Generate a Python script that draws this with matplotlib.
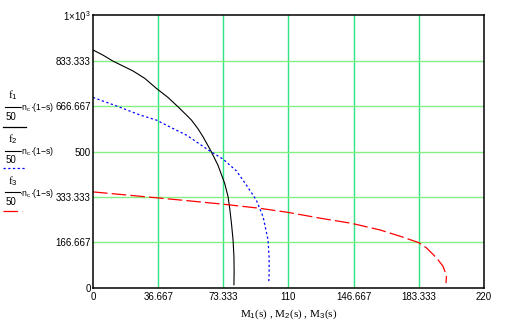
import matplotlib
matplotlib.use("Agg")
import matplotlib.pyplot as plt
from matplotlib.lines import Line2D

plt.rcParams["lines.scale_dashes"] = False
plt.rcParams["mathtext.fontset"] = "custom"
plt.rcParams["mathtext.rm"] = "Liberation Sans"
plt.rcParams["mathtext.it"] = "Liberation Sans"

# Torque (x) versus speed (y) for three supply frequencies
m1 = [0, 5.63, 11.25, 16.9, 22.5, 29.1, 35.7, 42.2, 47.8, 52.5, 55.4, 59.1, 61.9, 66.1, 70.3,
      74.1, 76.0, 77.0, 77.9, 78.8, 79.3, 79.4, 79.3]
n1 = [872, 853, 831, 813, 795, 768, 731, 698, 664, 634, 615, 583, 554, 505, 450,
      383, 334, 288, 237, 176, 115, 60, 12]

m2 = [0, 13.2, 26.3, 35.7, 46.0, 52.6, 65.7, 73.2, 80.7, 86.3, 91.9, 95.7, 98.5, 99.1, 99.1, 98.9]
n2 = [698, 667, 634, 615, 581, 560, 502, 472, 429, 377, 322, 261, 176, 110, 55, 19]

m3 = [0, 20.0, 43.0, 54.4, 73.2, 93.8, 109.7, 127.6, 145.4, 161.3, 172.6, 183.4, 187.6, 193.2, 196.9, 198.9, 198.6]
n3 = [352, 340, 326, 319, 307, 292, 277, 256, 237, 213, 190, 166, 147, 111, 80, 45, 18]

x_ticks = [0, 36.667, 73.333, 110, 146.667, 183.333, 220]
x_labels = ["0", "36.667", "73.333", "110", "146.667", "183.333", "220"]
y_ticks = [0, 166.667, 333.333, 500, 666.667, 833.333, 1000]
y_labels = ["0", "166.667", "333.333", "500", "666.667", "833.333", r"1$\times$10$^{3}$"]

W, H = 510, 326
fig = plt.figure(figsize=(W / 100, H / 100), dpi=100)
fig.patch.set_facecolor("white")

L, R, T, B = 93, 484, 15, 288
ax = fig.add_axes([L / W, (H - B) / H, (R - L) / W, (B - T) / H])
ax.set_xlim(0, 220)
ax.set_ylim(0, 1000)

# grid
for xv in x_ticks[1:-1]:
    ax.axvline(xv, color="#2ee482", lw=1.0, zorder=1)
for yv in y_ticks[1:-1]:
    ax.axhline(yv, color="#84f084", lw=1.0, zorder=1)

ax.plot(m1, n1, color="black", lw=0.8, zorder=3)
ax.plot(m2, n2, color="#0000ff", lw=0.9, dashes=(1.6, 1.8), zorder=3)
ax.plot(m3, n3, color="#ff0000", lw=0.9, dashes=(10.5, 3.0), zorder=3)

for s in ax.spines.values():
    s.set_color("black")
    s.set_linewidth(1.1)
    s.set_zorder(4)

ax.set_xticks(x_ticks)
ax.set_xticklabels(x_labels)
ax.set_yticks(y_ticks)
ax.set_yticklabels(y_labels)
ax.tick_params(axis="x", length=0, pad=3, labelsize=7)
ax.tick_params(axis="y", length=0, pad=1.5, labelsize=7)
for t in ax.get_xticklabels() + ax.get_yticklabels():
    t.set_fontfamily("Liberation Sans")

# x axis caption
fig.text(289 / W, 1 - 314 / H, r"M$_{1}$(s) , M$_{2}$(s) , M$_{3}$(s)",
         family="Liberation Serif", fontsize=8, ha="center", va="center")

# y axis captions: three stacked fractions with line samples
def px(x, y):
    return x / W, 1 - y / H

captions = [
    ("1", 95, 106.5, 117, 126.5, dict(color="black", lw=0.9)),
    ("2", 139, 150.5, 160, 168, dict(color="#0000ff", lw=0.9, dashes=(1.6, 1.8))),
    ("3", 181.5, 192, 202, 210.5, dict(color="#ff0000", lw=0.9, dashes=(10.5, 3.0))),
]
for idx, fy, by, dy, ly, style in captions:
    fig.text(*px(8, fy), "f$_{%s}$" % idx, family="Liberation Serif",
             fontsize=8, ha="left", va="center")
    fig.add_artist(Line2D([5 / W, 20 / W], [1 - by / H] * 2, color="black",
                          lw=0.8, transform=fig.transFigure))
    fig.text(*px(6, dy), "50", family="Liberation Sans", fontsize=7,
             ha="left", va="center")
    fig.text(*px(19, by + 1), "\u00b7n$_{c}$\u00b7(1\u2212s)", family="Liberation Sans",
             fontsize=6.2, ha="left", va="center")
    end = 22 if idx == "3" else 26
    fig.add_artist(Line2D([3 / W, end / W], [1 - ly / H] * 2,
                          transform=fig.transFigure, **style))

fig.savefig("out.png", dpi=100, facecolor="white")
